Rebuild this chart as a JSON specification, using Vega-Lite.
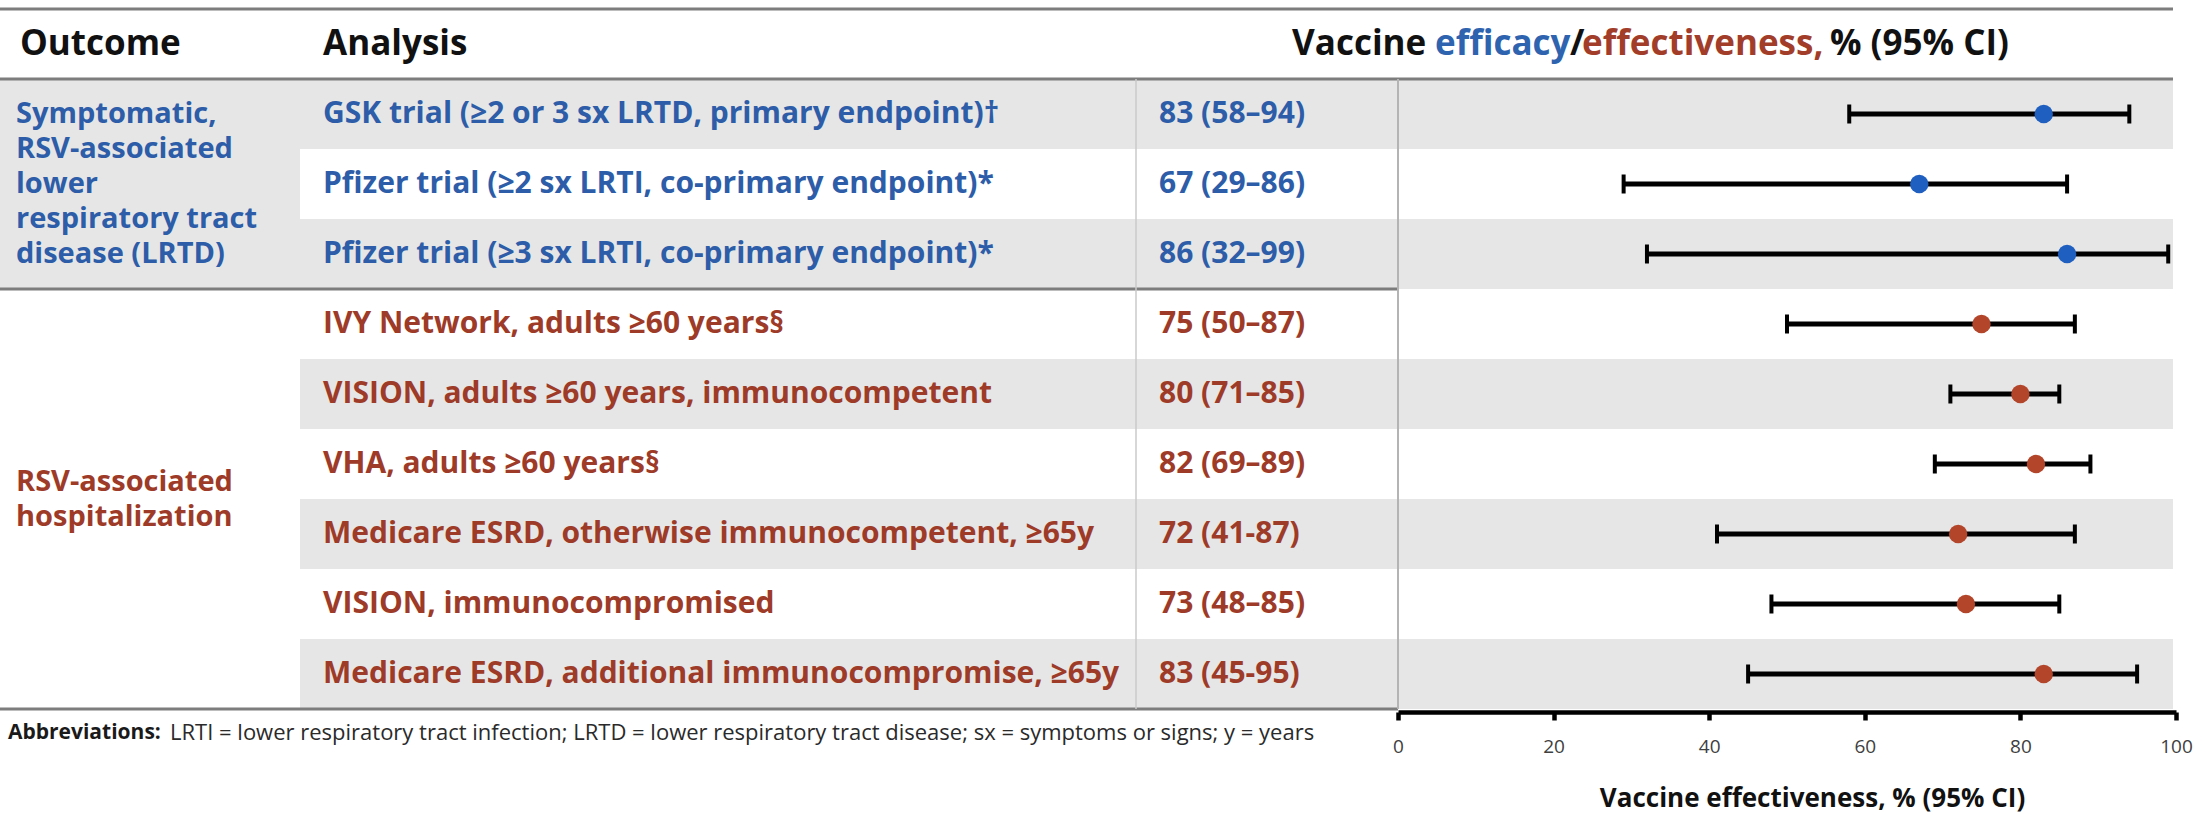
{
  "$schema": "https://vega.github.io/schema/vega-lite/v6.json",
  "width": 2202,
  "height": 709,
  "padding": {"left": 0, "top": 0, "right": 0, "bottom": 107},
  "autosize": {"type": "none"},
  "background": "white",
  "config": {"view": {"stroke": null}, "font": "Open Sans", "text": {"font": "Open Sans"}},
  "datasets": {
    "cells": [
      {"row": "1", "grp": "efficacy", "analysis": "GSK trial (≥2 or 3 sx LRTD, primary endpoint)†", "label": "83 (58–94)", "ve": 83, "lo": 58, "hi": 94},
      {"row": "2", "grp": "efficacy", "analysis": "Pfizer trial (≥2 sx LRTI, co-primary endpoint)*", "label": "67 (29–86)", "ve": 67, "lo": 29, "hi": 86},
      {"row": "3", "grp": "efficacy", "analysis": "Pfizer trial (≥3 sx LRTI, co-primary endpoint)*", "label": "86 (32–99)", "ve": 86, "lo": 32, "hi": 99},
      {"row": "4", "grp": "effectiveness", "analysis": "IVY Network, adults ≥60 years§", "label": "75 (50–87)", "ve": 75, "lo": 50, "hi": 87},
      {"row": "5", "grp": "effectiveness", "analysis": "VISION, adults ≥60 years, immunocompetent", "label": "80 (71–85)", "ve": 80, "lo": 71, "hi": 85},
      {"row": "6", "grp": "effectiveness", "analysis": "VHA, adults ≥60 years§", "label": "82 (69–89)", "ve": 82, "lo": 69, "hi": 89},
      {"row": "7", "grp": "effectiveness", "analysis": "Medicare ESRD, otherwise immunocompetent, ≥65y", "label": "72 (41-87)", "ve": 72, "lo": 41, "hi": 87},
      {"row": "8", "grp": "effectiveness", "analysis": "VISION, immunocompromised", "label": "73 (48–85)", "ve": 73, "lo": 48, "hi": 85},
      {"row": "9", "grp": "effectiveness", "analysis": "Medicare ESRD, additional immunocompromise, ≥65y", "label": "83 (45-95)", "ve": 83, "lo": 45, "hi": 95}
    ],
    "bands": [
      {"row": "1", "fromCol": 0, "toCol": 4},
      {"row": "2", "fromCol": 0, "toCol": 1},
      {"row": "3", "fromCol": 0, "toCol": 4},
      {"row": "5", "fromCol": 1, "toCol": 4},
      {"row": "7", "fromCol": 1, "toCol": 4},
      {"row": "9", "fromCol": 1, "toCol": 4}
    ],
    "hlines": [
      {"row": "h", "fromCol": 0, "toCol": 4},
      {"row": "1", "fromCol": 0, "toCol": 4},
      {"row": "4", "fromCol": 0, "toCol": 3},
      {"row": "f", "fromCol": 0, "toCol": 3}
    ],
    "outcomes": [
      {"grp": "efficacy", "text": "Symptomatic,\nRSV-associated\nlower\nrespiratory tract\ndisease (LRTD)"},
      {"grp": "effectiveness", "text": "RSV-associated\nhospitalization"}
    ]
  },
  "layer": [
    {
      "layer": [
        {
          "data": {"name": "bands"},
          "mark": {"type": "rect", "color": "#e6e6e6"},
          "encoding": {
            "x": {"field": "fromCol", "type": "quantitative", "scale": {"type": "linear", "domain": [0, 1, 2, 3, 4], "range": [0, 300, 1136, 1398, 2173], "zero": false, "nice": false}, "axis": null},
            "x2": {"field": "toCol"},
            "y": {"field": "row", "type": "nominal", "scale": {"type": "band", "domain": ["h", "1", "2", "3", "4", "5", "6", "7", "8", "9", "f"], "range": [9, 779], "paddingInner": 0, "paddingOuter": 0}, "axis": null}
          }
        },
        {
          "data": {"name": "hlines"},
          "mark": {"type": "rule", "color": "#7d7d7d", "strokeWidth": 3},
          "encoding": {
            "x": {"field": "fromCol", "type": "quantitative", "scale": {"type": "linear", "domain": [0, 1, 2, 3, 4], "range": [0, 300, 1136, 1398, 2173], "zero": false, "nice": false}, "axis": null},
            "x2": {"field": "toCol"},
            "y": {"field": "row", "type": "nominal", "bandPosition": 0, "scale": {"type": "band", "domain": ["h", "1", "2", "3", "4", "5", "6", "7", "8", "9", "f"], "range": [9, 779], "paddingInner": 0, "paddingOuter": 0}, "axis": null}
          }
        },
        {
          "data": {"name": "cells"},
          "mark": {"type": "tick", "orient": "vertical", "size": 70, "thickness": 1.5, "color": "#cacaca", "opacity": 1},
          "encoding": {
            "x": {"datum": 2, "type": "quantitative", "scale": {"type": "linear", "domain": [0, 1, 2, 3, 4], "range": [0, 300, 1136, 1398, 2173], "zero": false, "nice": false}, "axis": null},
            "y": {"field": "row", "type": "nominal", "scale": {"type": "band", "domain": ["h", "1", "2", "3", "4", "5", "6", "7", "8", "9", "f"], "range": [9, 779], "paddingInner": 0, "paddingOuter": 0}, "axis": null}
          }
        },
        {
          "data": {"name": "cells"},
          "mark": {"type": "tick", "orient": "vertical", "size": 70, "thickness": 2, "color": "#b4b4b4", "opacity": 1},
          "encoding": {
            "x": {"datum": 3, "type": "quantitative", "scale": {"type": "linear", "domain": [0, 1, 2, 3, 4], "range": [0, 300, 1136, 1398, 2173], "zero": false, "nice": false}, "axis": null},
            "y": {"field": "row", "type": "nominal", "scale": {"type": "band", "domain": ["h", "1", "2", "3", "4", "5", "6", "7", "8", "9", "f"], "range": [9, 779], "paddingInner": 0, "paddingOuter": 0}, "axis": null}
          }
        },
        {
          "data": {"name": "cells"},
          "mark": {"type": "text", "align": "left", "baseline": "middle", "dx": 23, "fontSize": 30, "fontWeight": "bold"},
          "encoding": {
            "x": {"datum": 1, "type": "quantitative", "scale": {"type": "linear", "domain": [0, 1, 2, 3, 4], "range": [0, 300, 1136, 1398, 2173], "zero": false, "nice": false}, "axis": null},
            "y": {"field": "row", "type": "nominal", "scale": {"type": "band", "domain": ["h", "1", "2", "3", "4", "5", "6", "7", "8", "9", "f"], "range": [9, 779], "paddingInner": 0, "paddingOuter": 0}, "axis": null},
            "text": {"field": "analysis"},
            "color": {"field": "grp", "type": "nominal", "scale": {"domain": ["efficacy", "effectiveness"], "range": ["#2D5DA8", "#9E3B28"]}, "legend": null}
          }
        },
        {
          "data": {"name": "cells"},
          "mark": {"type": "text", "align": "left", "baseline": "middle", "dx": 23, "fontSize": 30, "fontWeight": "bold"},
          "encoding": {
            "x": {"datum": 2, "type": "quantitative", "scale": {"type": "linear", "domain": [0, 1, 2, 3, 4], "range": [0, 300, 1136, 1398, 2173], "zero": false, "nice": false}, "axis": null},
            "y": {"field": "row", "type": "nominal", "scale": {"type": "band", "domain": ["h", "1", "2", "3", "4", "5", "6", "7", "8", "9", "f"], "range": [9, 779], "paddingInner": 0, "paddingOuter": 0}, "axis": null},
            "text": {"field": "label"},
            "color": {"field": "grp", "type": "nominal", "scale": {"domain": ["efficacy", "effectiveness"], "range": ["#2D5DA8", "#9E3B28"]}, "legend": null}
          }
        },
        {
          "data": {"name": "outcomes"},
          "transform": [{"filter": "datum.grp === 'efficacy'"}],
          "mark": {"type": "text", "align": "left", "baseline": "middle", "dx": 16, "dy": -70, "fontSize": 29, "fontWeight": "bold", "lineBreak": "\n", "lineHeight": 35},
          "encoding": {
            "x": {"datum": 0, "type": "quantitative", "scale": {"type": "linear", "domain": [0, 1, 2, 3, 4], "range": [0, 300, 1136, 1398, 2173], "zero": false, "nice": false}, "axis": null},
            "y": {"datum": "2", "type": "nominal", "scale": {"type": "band", "domain": ["h", "1", "2", "3", "4", "5", "6", "7", "8", "9", "f"], "range": [9, 779], "paddingInner": 0, "paddingOuter": 0}, "axis": null},
            "text": {"field": "text"},
            "color": {"field": "grp", "type": "nominal", "scale": {"domain": ["efficacy", "effectiveness"], "range": ["#2D5DA8", "#9E3B28"]}, "legend": null}
          }
        },
        {
          "data": {"name": "outcomes"},
          "transform": [{"filter": "datum.grp === 'effectiveness'"}],
          "mark": {"type": "text", "align": "left", "baseline": "middle", "dx": 16, "dy": -17, "fontSize": 29, "fontWeight": "bold", "lineBreak": "\n", "lineHeight": 35},
          "encoding": {
            "x": {"datum": 0, "type": "quantitative", "scale": {"type": "linear", "domain": [0, 1, 2, 3, 4], "range": [0, 300, 1136, 1398, 2173], "zero": false, "nice": false}, "axis": null},
            "y": {"datum": "7", "type": "nominal", "bandPosition": 0, "scale": {"type": "band", "domain": ["h", "1", "2", "3", "4", "5", "6", "7", "8", "9", "f"], "range": [9, 779], "paddingInner": 0, "paddingOuter": 0}, "axis": null},
            "text": {"field": "text"},
            "color": {"field": "grp", "type": "nominal", "scale": {"domain": ["efficacy", "effectiveness"], "range": ["#2D5DA8", "#9E3B28"]}, "legend": null}
          }
        },
        {
          "data": {"values": [{"t": "Outcome"}]},
          "mark": {"type": "text", "align": "left", "baseline": "middle", "dx": 20, "fontSize": 35, "fontWeight": "bold", "color": "#111111"},
          "encoding": {
            "x": {"datum": 0, "type": "quantitative", "scale": {"type": "linear", "domain": [0, 1, 2, 3, 4], "range": [0, 300, 1136, 1398, 2173], "zero": false, "nice": false}, "axis": null},
            "y": {"datum": "h", "type": "nominal", "scale": {"type": "band", "domain": ["h", "1", "2", "3", "4", "5", "6", "7", "8", "9", "f"], "range": [9, 779], "paddingInner": 0, "paddingOuter": 0}, "axis": null},
            "text": {"field": "t"}
          }
        },
        {
          "data": {"values": [{"t": "Analysis"}]},
          "mark": {"type": "text", "align": "left", "baseline": "middle", "dx": 23, "fontSize": 35, "fontWeight": "bold", "color": "#111111"},
          "encoding": {
            "x": {"datum": 1, "type": "quantitative", "scale": {"type": "linear", "domain": [0, 1, 2, 3, 4], "range": [0, 300, 1136, 1398, 2173], "zero": false, "nice": false}, "axis": null},
            "y": {"datum": "h", "type": "nominal", "scale": {"type": "band", "domain": ["h", "1", "2", "3", "4", "5", "6", "7", "8", "9", "f"], "range": [9, 779], "paddingInner": 0, "paddingOuter": 0}, "axis": null},
            "text": {"field": "t"}
          }
        },
        {
          "data": {"values": [{"t": "Vaccine"}]},
          "mark": {"type": "text", "align": "left", "baseline": "middle", "dx": 156, "fontSize": 35, "fontWeight": "bold", "color": "#111111"},
          "encoding": {
            "x": {"datum": 2, "type": "quantitative", "scale": {"type": "linear", "domain": [0, 1, 2, 3, 4], "range": [0, 300, 1136, 1398, 2173], "zero": false, "nice": false}, "axis": null},
            "y": {"datum": "h", "type": "nominal", "scale": {"type": "band", "domain": ["h", "1", "2", "3", "4", "5", "6", "7", "8", "9", "f"], "range": [9, 779], "paddingInner": 0, "paddingOuter": 0}, "axis": null},
            "text": {"field": "t"}
          }
        },
        {
          "data": {"values": [{"t": "efficacy"}]},
          "mark": {"type": "text", "align": "left", "baseline": "middle", "dx": 299, "fontSize": 35, "fontWeight": "bold", "color": "#2E63B0"},
          "encoding": {
            "x": {"datum": 2, "type": "quantitative", "scale": {"type": "linear", "domain": [0, 1, 2, 3, 4], "range": [0, 300, 1136, 1398, 2173], "zero": false, "nice": false}, "axis": null},
            "y": {"datum": "h", "type": "nominal", "scale": {"type": "band", "domain": ["h", "1", "2", "3", "4", "5", "6", "7", "8", "9", "f"], "range": [9, 779], "paddingInner": 0, "paddingOuter": 0}, "axis": null},
            "text": {"field": "t"}
          }
        },
        {
          "data": {"values": [{"t": "/"}]},
          "mark": {"type": "text", "align": "left", "baseline": "middle", "dx": 434, "fontSize": 35, "fontWeight": "bold", "color": "#111111"},
          "encoding": {
            "x": {"datum": 2, "type": "quantitative", "scale": {"type": "linear", "domain": [0, 1, 2, 3, 4], "range": [0, 300, 1136, 1398, 2173], "zero": false, "nice": false}, "axis": null},
            "y": {"datum": "h", "type": "nominal", "scale": {"type": "band", "domain": ["h", "1", "2", "3", "4", "5", "6", "7", "8", "9", "f"], "range": [9, 779], "paddingInner": 0, "paddingOuter": 0}, "axis": null},
            "text": {"field": "t"}
          }
        },
        {
          "data": {"values": [{"t": "effectiveness,"}]},
          "mark": {"type": "text", "align": "left", "baseline": "middle", "dx": 446, "fontSize": 35, "fontWeight": "bold", "color": "#A23D2A"},
          "encoding": {
            "x": {"datum": 2, "type": "quantitative", "scale": {"type": "linear", "domain": [0, 1, 2, 3, 4], "range": [0, 300, 1136, 1398, 2173], "zero": false, "nice": false}, "axis": null},
            "y": {"datum": "h", "type": "nominal", "scale": {"type": "band", "domain": ["h", "1", "2", "3", "4", "5", "6", "7", "8", "9", "f"], "range": [9, 779], "paddingInner": 0, "paddingOuter": 0}, "axis": null},
            "text": {"field": "t"}
          }
        },
        {
          "data": {"values": [{"t": "% (95% CI)"}]},
          "mark": {"type": "text", "align": "left", "baseline": "middle", "dx": 694, "fontSize": 35, "fontWeight": "bold", "color": "#111111"},
          "encoding": {
            "x": {"datum": 2, "type": "quantitative", "scale": {"type": "linear", "domain": [0, 1, 2, 3, 4], "range": [0, 300, 1136, 1398, 2173], "zero": false, "nice": false}, "axis": null},
            "y": {"datum": "h", "type": "nominal", "scale": {"type": "band", "domain": ["h", "1", "2", "3", "4", "5", "6", "7", "8", "9", "f"], "range": [9, 779], "paddingInner": 0, "paddingOuter": 0}, "axis": null},
            "text": {"field": "t"}
          }
        },
        {
          "data": {"values": [{"t": "Abbreviations:"}]},
          "mark": {"type": "text", "align": "left", "baseline": "middle", "dx": 8, "dy": -11, "fontSize": 21, "fontWeight": "bold", "color": "#1a1a1a"},
          "encoding": {
            "x": {"datum": 0, "type": "quantitative", "scale": {"type": "linear", "domain": [0, 1, 2, 3, 4], "range": [0, 300, 1136, 1398, 2173], "zero": false, "nice": false}, "axis": null},
            "y": {"datum": "f", "type": "nominal", "scale": {"type": "band", "domain": ["h", "1", "2", "3", "4", "5", "6", "7", "8", "9", "f"], "range": [9, 779], "paddingInner": 0, "paddingOuter": 0}, "axis": null},
            "text": {"field": "t"}
          }
        },
        {
          "data": {"values": [{"t": "LRTI = lower respiratory tract infection; LRTD = lower respiratory tract disease; sx = symptoms or signs; y = years"}]},
          "mark": {"type": "text", "align": "left", "baseline": "middle", "dx": 170, "dy": -11, "fontSize": 22, "color": "#2a2a2a"},
          "encoding": {
            "x": {"datum": 0, "type": "quantitative", "scale": {"type": "linear", "domain": [0, 1, 2, 3, 4], "range": [0, 300, 1136, 1398, 2173], "zero": false, "nice": false}, "axis": null},
            "y": {"datum": "f", "type": "nominal", "scale": {"type": "band", "domain": ["h", "1", "2", "3", "4", "5", "6", "7", "8", "9", "f"], "range": [9, 779], "paddingInner": 0, "paddingOuter": 0}, "axis": null},
            "text": {"field": "t"}
          }
        }
      ]
    },
    {
      "data": {"name": "cells"},
      "layer": [
        {
          "mark": {"type": "rule", "color": "black", "strokeWidth": 5},
          "encoding": {
            "x": {"field": "lo", "type": "quantitative", "scale": {"domain": [0, 100], "range": [1398, 2176], "zero": false, "nice": false},
              "axis": {"values": [0, 20, 40, 60, 80, 100], "title": "Vaccine effectiveness, % (95% CI)", "orient": "bottom", "offset": 3, "grid": false, "domainColor": "black", "domainWidth": 4.5, "tickColor": "black", "tickWidth": 4.5, "tickSize": 8, "labelFont": "Open Sans", "labelFontSize": 19, "labelColor": "#404040", "labelPadding": 17, "labelFlush": false, "titleFont": "Open Sans", "titleFontSize": 26, "titleFontWeight": "bold", "titleColor": "#111111", "titlePadding": 29, "titleX": 1812, "titleAlign": "center"}},
            "x2": {"field": "hi"},
            "y": {"field": "row", "type": "nominal", "scale": {"type": "band", "domain": ["h", "1", "2", "3", "4", "5", "6", "7", "8", "9", "f"], "range": [9, 779], "paddingInner": 0, "paddingOuter": 0}, "axis": null}
          }
        },
        {
          "mark": {"type": "tick", "orient": "vertical", "size": 19, "thickness": 4, "color": "black", "opacity": 1},
          "encoding": {
            "x": {"field": "lo", "type": "quantitative", "scale": {"domain": [0, 100], "range": [1398, 2176], "zero": false, "nice": false}},
            "y": {"field": "row", "type": "nominal", "scale": {"type": "band", "domain": ["h", "1", "2", "3", "4", "5", "6", "7", "8", "9", "f"], "range": [9, 779], "paddingInner": 0, "paddingOuter": 0}, "axis": null}
          }
        },
        {
          "mark": {"type": "tick", "orient": "vertical", "size": 19, "thickness": 4, "color": "black", "opacity": 1},
          "encoding": {
            "x": {"field": "hi", "type": "quantitative", "scale": {"domain": [0, 100], "range": [1398, 2176], "zero": false, "nice": false}},
            "y": {"field": "row", "type": "nominal", "scale": {"type": "band", "domain": ["h", "1", "2", "3", "4", "5", "6", "7", "8", "9", "f"], "range": [9, 779], "paddingInner": 0, "paddingOuter": 0}, "axis": null}
          }
        },
        {
          "mark": {"type": "point", "shape": "circle", "filled": true, "size": 340, "opacity": 1},
          "encoding": {
            "x": {"field": "ve", "type": "quantitative", "scale": {"domain": [0, 100], "range": [1398, 2176], "zero": false, "nice": false}},
            "y": {"field": "row", "type": "nominal", "scale": {"type": "band", "domain": ["h", "1", "2", "3", "4", "5", "6", "7", "8", "9", "f"], "range": [9, 779], "paddingInner": 0, "paddingOuter": 0}, "axis": null},
            "color": {"field": "grp", "type": "nominal", "scale": {"domain": ["efficacy", "effectiveness"], "range": ["#1F5FC0", "#B3452A"]}, "legend": null}
          }
        }
      ]
    }
  ],
  "resolve": {"scale": {"x": "independent", "color": "independent"}, "axis": {"x": "independent"}}
}
